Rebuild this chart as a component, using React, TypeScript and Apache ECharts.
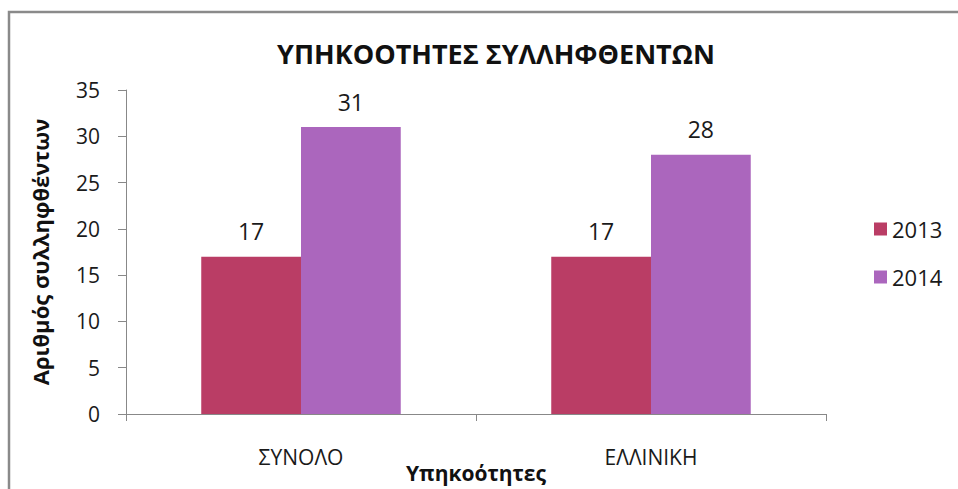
import React, { useEffect, useRef } from "react";
import * as echarts from "echarts";

const title = "ΥΠΗΚΟΟΤΗΤΕΣ ΣΥΛΛΗΦΘΕΝΤΩΝ";
const categories = ["ΣΥΝΟΛΟ", "ΕΛΛΙΝΙΚΗ"];
const seriesNames = ["2013", "2014"];
const values2013 = [17, 17];
const values2014 = [31, 28];
const yAxisName = "Αριθμός συλληφθέντων";
const xAxisName = "Υπηκοότητες";

const FONT = "'Open Sans', 'Noto Sans', sans-serif";

export default function App() {
  const ref = useRef<HTMLDivElement>(null);
  useEffect(() => {
    if (!ref.current) return;
    const chart = echarts.init(ref.current, undefined, { renderer: "svg" });
    chart.setOption({
      animation: false,
      backgroundColor: "#ffffff",
      textStyle: { fontFamily: FONT, color: "#1a1a1a" },
      title: {
        text: title,
        left: 491,
        textAlign: "center",
        top: 35,
        textStyle: { fontFamily: FONT, fontSize: 27, fontWeight: "bold", color: "#111" },
      },
      graphic: [
        {
          type: "rect",
          shape: { x: 9, y: 12, width: 2000, height: 2000 },
          style: { fill: "none", stroke: "#8a8a8a", lineWidth: 2.5 },
          silent: true,
        },
      ],
      legend: {
        orient: "vertical",
        left: 869,
        top: 212,
        itemWidth: 13,
        itemHeight: 13,
        itemGap: 24,
        icon: "rect",
        textStyle: { fontFamily: FONT, fontSize: 22, color: "#1a1a1a", lineHeight: 24 },
        data: seriesNames,
      },
      grid: { left: 126, right: 132, top: 90, bottom: 75, containLabel: false, outerBoundsMode: "none" },
      xAxis: {
        type: "category",
        data: categories,
        name: xAxisName,
        nameLocation: "middle",
        nameGap: 48,
        nameMoveOverlap: false,
        nameTextStyle: { fontFamily: FONT, fontSize: 21, fontWeight: "bold", color: "#111" },
        axisLine: { lineStyle: { color: "#888", width: 1 } },
        axisTick: { show: true, length: 7, lineStyle: { color: "#888" } },
        axisLabel: { margin: 32, fontSize: 21, color: "#1a1a1a", fontFamily: FONT },
      },
      yAxis: {
        type: "value",
        min: 0,
        max: 35,
        interval: 5,
        name: yAxisName,
        nameLocation: "middle",
        nameGap: 75,
        nameRotate: 90,
        nameMoveOverlap: false,
        nameTextStyle: { fontFamily: FONT, fontSize: 22, fontWeight: "bold", color: "#111" },
        axisLine: { show: true, lineStyle: { color: "#888", width: 1 } },
        axisTick: { show: true, length: 8, lineStyle: { color: "#888" } },
        splitLine: { show: false },
        axisLabel: { margin: 26, fontSize: 21, color: "#1a1a1a", fontFamily: FONT },
      },
      series: [
        {
          name: seriesNames[0],
          type: "bar",
          data: values2013,
          barGap: "0%",
          barCategoryGap: "43%",
          itemStyle: { color: "#BA3D65" },
          label: { show: true, position: "top", distance: 14, fontSize: 23, color: "#1a1a1a", fontFamily: FONT },
        },
        {
          name: seriesNames[1],
          type: "bar",
          data: values2014,
          barGap: "0%",
          barCategoryGap: "43%",
          itemStyle: { color: "#AB66BD" },
          label: { show: true, position: "top", distance: 14, fontSize: 23, color: "#1a1a1a", fontFamily: FONT },
        },
      ],
    });
    return () => chart.dispose();
  }, []);
  return (
    <div
      ref={ref}
      style={{ position: "fixed", left: 0, top: 0, width: 958, height: 489 }}
    />
  );
}
